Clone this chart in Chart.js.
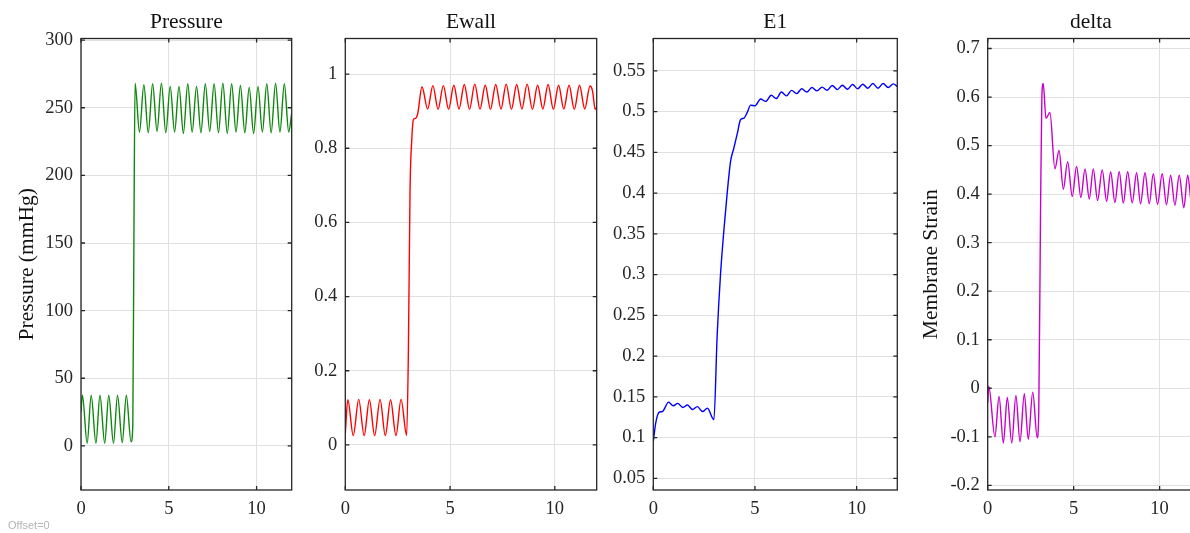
<!DOCTYPE html>
<html>
<head>
<meta charset="utf-8">
<title>Pressure / Ewall / E1 / delta</title>
<script src="https://cdn.jsdelivr.net/npm/chart.js@4.4.1/dist/chart.umd.min.js"></script>
<style>
html, body { margin: 0; padding: 0; background: #fff; overflow: hidden; }
#wrap { position: relative; width: 1190px; height: 533px; overflow: hidden; background: #fff; }
#wrap canvas { position: absolute; top: 0; }
#offset { position: absolute; left: 8px; top: 519px; font: 11px "Liberation Sans", Arial, sans-serif; line-height: 13px; color: #b4b4b4; }
</style>
</head>
<body>
<div id="wrap">
  <canvas id="c1" width="300" height="533" style="left:0px"></canvas>
  <canvas id="c2" width="300" height="533" style="left:300px"></canvas>
  <canvas id="c3" width="300" height="533" style="left:600px"></canvas>
  <canvas id="c4" width="300" height="533" style="left:900px"></canvas>
  <div id="offset">Offset=0</div>
</div>
<script>
//=========================================
// Data
//=========================================
const xTicks = [0, 5, 10];
const xLabels = ["0", "5", "10"];

// Pressure (mmHg)
const pressureTime = [0, 0.08, 0.35, 0.58, 0.85, 1.08, 1.35, 1.58, 1.85, 2.08, 2.35, 2.58, 2.85,
  2.95, 3.02,
  3.08, 3.33, 3.58, 3.83, 4.08, 4.33, 4.58, 4.83, 5.08, 5.33, 5.58, 5.83, 6.08, 6.33, 6.58, 6.83,
  7.08, 7.33, 7.58, 7.83, 8.08, 8.33, 8.58, 8.83, 9.08, 9.33, 9.58, 9.83, 10.08, 10.33, 10.58, 10.83,
  11.08, 11.33, 11.58, 11.83, 12];
const pressureValue = [25, 37.5, 2, 37.5, 2, 37.5, 2, 37.5, 2, 37.5, 2.5, 37.5, 3,
  15, 170,
  268.2, 232, 267, 231.5, 267.8, 232.5, 268.2, 231.5, 265.8, 232, 265.8, 231, 267.8, 232, 265.8, 231.5,
  267.8, 232.5, 267.8, 231.5, 268.2, 231, 267.8, 232, 266.5, 231.5, 265.1, 231, 265.8, 232, 267.8, 231.5,
  268.2, 232, 267.8, 232, 246];
const pressureTicks = [0, 50, 100, 150, 200, 250, 300];
const pressureLabels = ["0", "50", "100", "150", "200", "250", "300"];

// Ewall
const ewallTime = [0, 0.12, 0.38, 0.64, 0.9, 1.15, 1.4, 1.66, 1.91, 2.16, 2.42, 2.66, 2.93,
  3.01, 3.09, 3.17, 3.25, 3.36, 3.46,
  3.66, 3.93, 4.18, 4.43, 4.68, 4.93, 5.18, 5.43, 5.68, 5.93, 6.18, 6.43, 6.68, 6.93, 7.18, 7.43,
  7.68, 7.93, 8.18, 8.43, 8.68, 8.93, 9.18, 9.43, 9.68, 9.93, 10.18, 10.43, 10.68, 10.93, 11.18, 11.43,
  11.68, 11.8, 11.93, 12];
const ewallValue = [0.03, 0.122, 0.025, 0.123, 0.025, 0.122, 0.025, 0.123, 0.025, 0.122, 0.025, 0.123, 0.026,
  0.247, 0.687, 0.82, 0.877, 0.881, 0.894,
  0.966, 0.906, 0.969, 0.905, 0.969, 0.905, 0.97, 0.906, 0.972, 0.905, 0.973, 0.906, 0.97, 0.905, 0.972, 0.906,
  0.973, 0.905, 0.972, 0.906, 0.973, 0.905, 0.97, 0.906, 0.972, 0.905, 0.97, 0.906, 0.97, 0.905, 0.97, 0.906,
  0.968, 0.955, 0.905, 0.91];
const ewallTicks = [0, 0.2, 0.4, 0.6, 0.8, 1];
const ewallLabels = ["0", "0.2", "0.4", "0.6", "0.8", "1"];

// E1
const e1Time = [0, 0.12, 0.28, 0.45, 0.75, 0.98, 1.2, 1.45, 1.68, 1.93, 2.17, 2.42, 2.66, 2.98,
  3.14, 3.3, 3.47, 3.63, 3.8, 3.96, 4.13, 4.29, 4.46, 4.62, 4.79, 5.0,
  5.28, 5.53, 5.8, 6.05, 6.3, 6.55, 6.8, 7.05, 7.3, 7.55, 7.8, 8.05, 8.3, 8.55, 8.8, 9.05, 9.3, 9.55,
  9.8, 10.05, 10.3, 10.55, 10.8, 11.05, 11.3, 11.55, 11.8, 12];
const e1Value = [0.095, 0.118, 0.131, 0.132, 0.1435, 0.139, 0.142, 0.137, 0.14, 0.1345, 0.138, 0.132, 0.136, 0.122,
  0.225, 0.298, 0.354, 0.399, 0.439, 0.455, 0.473, 0.49, 0.492, 0.499, 0.508, 0.507,
  0.5155, 0.5125, 0.52, 0.516, 0.524, 0.5193, 0.526, 0.522, 0.528, 0.524, 0.5295, 0.5254, 0.53, 0.5262,
  0.532, 0.527, 0.5324, 0.5275, 0.5332, 0.528, 0.5336, 0.5287, 0.5344, 0.5287, 0.5344, 0.5295, 0.534, 0.531];
const e1Ticks = [0.05, 0.1, 0.15, 0.2, 0.25, 0.3, 0.35, 0.4, 0.45, 0.5, 0.55];
const e1Labels = ["0.05", "0.1", "0.15", "0.2", "0.25", "0.3", "0.35", "0.4", "0.45", "0.5", "0.55"];

// delta (membrane strain)
const deltaTime = [0, 0.06, 0.42, 0.66, 0.91, 1.14, 1.4, 1.64, 1.88, 2.13, 2.36, 2.62, 2.88,
  2.97, 3.07, 3.15,
  3.23, 3.39, 3.62, 3.91, 4.15, 4.4, 4.65, 4.92, 5.17, 5.42, 5.66, 5.91, 6.14, 6.39, 6.66, 6.92,
  7.15, 7.4, 7.65, 7.89, 8.14, 8.41, 8.66, 8.89, 9.15, 9.4, 9.63, 9.88, 10.15, 10.4, 10.64, 10.89,
  11.14, 11.41, 11.63, 11.9, 12];
const deltaValue = [-0.03, 0.004, -0.1, -0.017, -0.113, -0.019, -0.113, -0.015, -0.11, -0.011, -0.105, -0.008, -0.102,
  -0.05, 0.35, 0.6,
  0.628, 0.556, 0.568, 0.452, 0.49, 0.41, 0.467, 0.395, 0.457, 0.393, 0.452, 0.39, 0.452, 0.387, 0.45, 0.385,
  0.446, 0.383, 0.446, 0.382, 0.446, 0.382, 0.444, 0.38, 0.444, 0.38, 0.442, 0.379, 0.442, 0.378, 0.439, 0.377,
  0.439, 0.372, 0.439, 0.37, 0.41];
const deltaTicks = [-0.2, -0.1, 0, 0.1, 0.2, 0.3, 0.4, 0.5, 0.6, 0.7];
const deltaLabels = ["-0.2", "-0.1", "0", "0.1", "0.2", "0.3", "0.4", "0.5", "0.6", "0.7"];

//=========================================
// Look
//=========================================
const serif = "'Liberation Serif', 'Times New Roman', serif";
const axisColor = "#262626";
const gridColor = "#e0e0e0";

//------------------------------------
// box round the plot area + inward ticks
//------------------------------------
const boxPlugin = {
  id: "box",
  afterDraw(chart) {
    const ctx = chart.ctx;
    const a = chart.chartArea;
    const xs = chart.scales.x;
    const ys = chart.scales.y;
    ctx.save();
    ctx.strokeStyle = axisColor;
    ctx.lineWidth = 1.3;
    ctx.strokeRect(a.left, a.top, a.right - a.left, a.bottom - a.top);
    ctx.beginPath();
    xs.ticks.forEach(t => {
      const px = xs.getPixelForValue(t.value);
      ctx.moveTo(px, a.bottom); ctx.lineTo(px, a.bottom - 4);
      ctx.moveTo(px, a.top); ctx.lineTo(px, a.top + 4);
    });
    ys.ticks.forEach(t => {
      const py = ys.getPixelForValue(t.value);
      ctx.moveTo(a.left, py); ctx.lineTo(a.left + 4, py);
      ctx.moveTo(a.right, py); ctx.lineTo(a.right - 4, py);
    });
    ctx.stroke();
    ctx.restore();
  }
};

function makePanel(p) {
  return new Chart(document.getElementById(p.id), {
    type: "line",
    data: {
      datasets: [{
        data: p.time.map((t, i) => ({ x: t, y: p.value[i] })),
        borderColor: p.color,
        borderWidth: 1.4,
        pointRadius: 0,
        cubicInterpolationMode: "monotone",
        fill: false
      }]
    },
    options: {
      responsive: false,
      animation: false,
      events: [],
      layout: { padding: { left: 0, right: p.padRight, top: 0, bottom: 0 } },
      plugins: {
        legend: { display: false },
        tooltip: { enabled: false },
        title: {
          display: true,
          text: p.title,
          fullSize: false,
          color: "#111",
          font: { family: serif, size: 21.5, weight: "normal" },
          padding: { top: 9, bottom: 3.7 }
        }
      },
      scales: {
        x: {
          type: "linear",
          min: 0,
          max: 12,
          afterBuildTicks: s => { s.ticks = xTicks.map(v => ({ value: v })); },
          afterFit: s => { s.height = 43; },
          ticks: {
            callback: (v, i) => xLabels[i],
            font: { family: serif, size: 18.5 },
            color: axisColor,
            padding: 8,
            maxRotation: 0,
            autoSkip: false
          },
          grid: { color: gridColor, drawTicks: false },
          border: { display: false }
        },
        y: {
          type: "linear",
          min: p.yMin,
          max: p.yMax,
          afterBuildTicks: s => { s.ticks = p.ticks.map(v => ({ value: v })); },
          afterFit: s => { s.width = p.axisW; },
          ticks: {
            callback: (v, i) => p.labels[i],
            font: { family: serif, size: 18.5 },
            color: axisColor,
            padding: 8,
            autoSkip: false
          },
          grid: { color: gridColor, drawTicks: false },
          border: { display: false },
          title: {
            display: !!p.yTitle,
            text: p.yTitle || "",
            color: "#111",
            font: { family: serif, size: 21.5 },
            padding: { top: p.yTitlePad || 0, bottom: 0 }
          }
        }
      }
    },
    plugins: [boxPlugin]
  });
}

makePanel({ id: "c1", title: "Pressure", yTitle: "Pressure (mmHg)", yTitlePad: 14.5,
  time: pressureTime, value: pressureValue, color: "#0f870f",
  yMin: -32.6, yMax: 301.2, ticks: pressureTicks, labels: pressureLabels,
  axisW: 81, padRight: 8.3 });

makePanel({ id: "c2", title: "Ewall",
  time: ewallTime, value: ewallValue, color: "#ff0000",
  yMin: -0.1215, yMax: 1.096, ticks: ewallTicks, labels: ewallLabels,
  axisW: 45.3, padRight: 3.3 });

makePanel({ id: "c3", title: "E1",
  time: e1Time, value: e1Value, color: "#0000ff",
  yMin: 0.0357, yMax: 0.5897, ticks: e1Ticks, labels: e1Labels,
  axisW: 53.3, padRight: 2.7 });

makePanel({ id: "c4", title: "delta", yTitle: "Membrane Strain", yTitlePad: 18,
  time: deltaTime, value: deltaValue, color: "#c800c8",
  yMin: -0.2096, yMax: 0.7206, ticks: deltaTicks, labels: deltaLabels,
  axisW: 87.7, padRight: 6 });
</script>
</body>
</html>
